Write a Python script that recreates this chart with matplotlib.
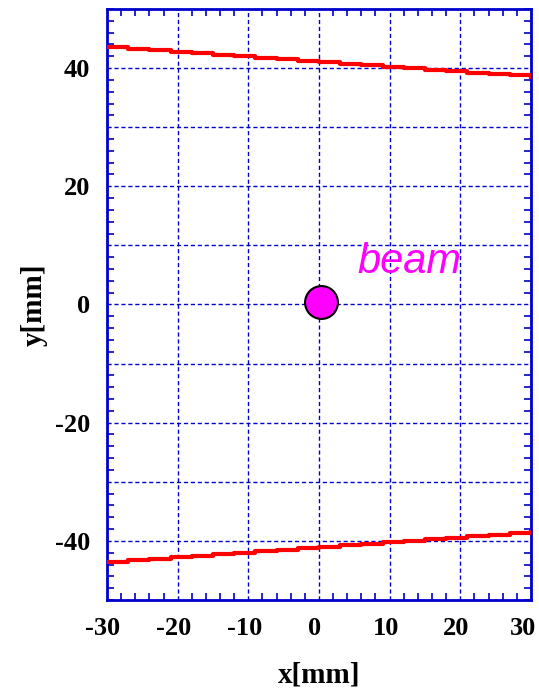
"""Beam position relative to the upper and lower boundary edges."""

import numpy as np
import matplotlib.pyplot as plt
from matplotlib.transforms import ScaledTranslation

plt.rcParams['axes.unicode_minus'] = False

# Edge profiles [mm]
edge_x = [-30, -27, -24, -21, -18, -15, -12, -9, -6, -3, 0,
          3, 6, 9, 12, 15, 18, 21, 24, 27, 30]
upper_edge_y = [43.5, 43.25, 43.0, 42.75, 42.5, 42.25, 42.0, 41.75, 41.5, 41.25, 41.0,
                40.75, 40.5, 40.25, 40.0, 39.75, 39.5, 39.25, 39.0, 38.75, 38.5]
lower_edge_y = [-43.5, -43.25, -43.0, -42.75, -42.5, -42.25, -42.0, -41.75, -41.5, -41.25, -41.0,
                -40.75, -40.5, -40.25, -40.0, -39.75, -39.5, -39.25, -39.0, -38.75, -38.5]

# Beam centre [mm]
beam_x = [0.3]
beam_y = [0.5]

x_ticks = [-30, -20, -10, 0, 10, 20, 30]
y_ticks = [-40, -30, -20, -10, 0, 10, 20, 30, 40]
y_labels = ['-40', '', '-20', '', '0', '', '20', '', '40']

BLUE = '#0000cc'

fig = plt.figure(figsize=(5.39, 6.92), dpi=100)
ax = fig.add_axes([0.1985, 0.133, 0.7865, 0.854])

ax.step(edge_x, upper_edge_y, where='post', color='red', lw=3, zorder=3)
ax.step(edge_x, lower_edge_y, where='post', color='red', lw=3, zorder=3)

ax.scatter(beam_x, beam_y, s=560, color='#ff00ff', edgecolors='black',
           linewidths=1.5, zorder=4)
ax.text(5.5, 5.4, 'beam', color='#ff00ff', fontsize=30, style='italic',
        family='Liberation Sans', zorder=4)

ax.set_xlim(-30, 30)
ax.set_ylim(-50, 50)
ax.set_xticks(x_ticks)
ax.set_yticks(y_ticks)
ax.set_yticklabels(y_labels)
ax.set_xticks(np.arange(-30, 31, 2), minor=True)
ax.set_yticks(np.arange(-50, 51, 2), minor=True)

ax.grid(True, which='major', color=BLUE, linestyle=(0, (3, 2)), lw=1)
for s in ax.spines.values():
    s.set_color(BLUE)
    s.set_linewidth(2)

ax.tick_params(which='both', direction='in', colors=BLUE, top=True, right=True,
               labelcolor='black')
ax.tick_params(which='major', length=0, pad=12)
ax.tick_params(which='minor', length=5, width=1.2)

for lab in ax.get_xticklabels() + ax.get_yticklabels():
    lab.set_family('Liberation Serif')
    lab.set_fontweight('bold')
    lab.set_fontsize(19)

# nudge x labels left so the last one stays inside the figure
xlabs = ax.get_xticklabels()
for i, lab in enumerate(xlabs):
    dx = -8 if i == len(xlabs) - 1 else -4
    lab.set_transform(lab.get_transform() + ScaledTranslation(dx / 100, 0, fig.dpi_scale_trans))

ax.set_xlabel('x[mm]', family='Liberation Serif', fontweight='bold',
              fontsize=21, labelpad=16)
ax.set_ylabel('y[mm]', family='Liberation Serif', fontweight='bold',
              fontsize=21, labelpad=5)

fig.savefig('out.png', dpi=100)
